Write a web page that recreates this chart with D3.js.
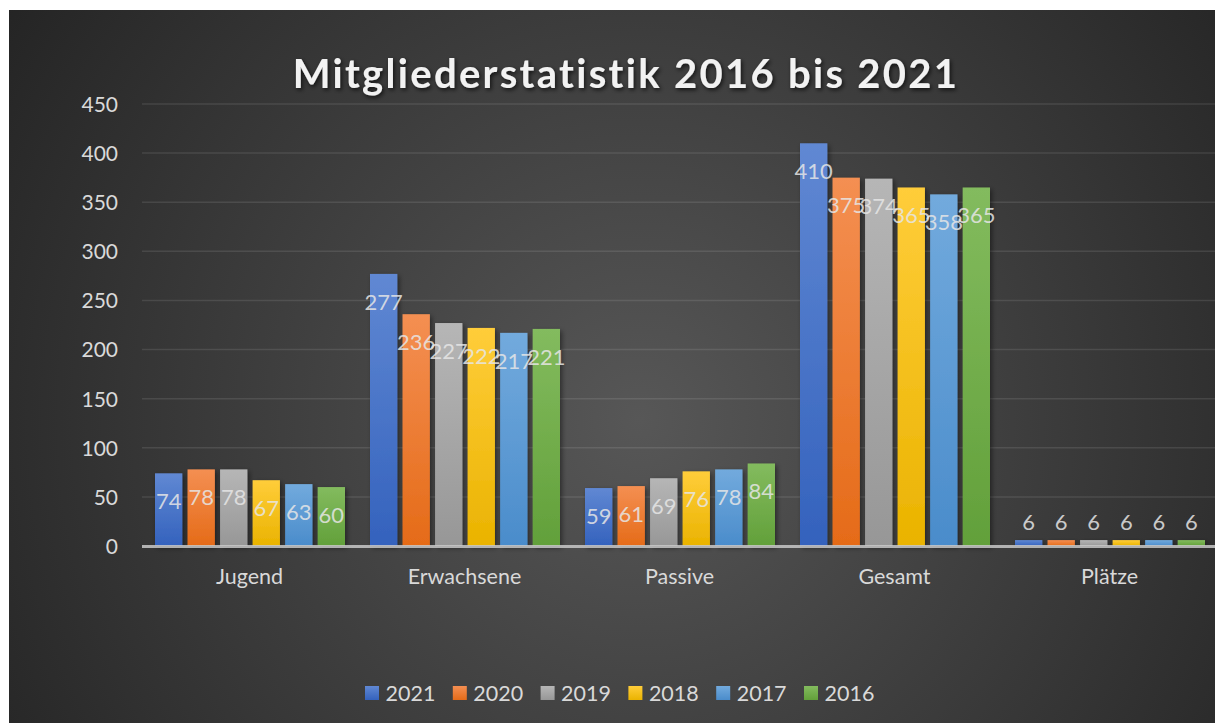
<!DOCTYPE html>
<html><head><meta charset="utf-8">
<script src="https://cdn.jsdelivr.net/npm/d3@7"></script>
<style>html,body{margin:0;padding:0;background:#fff;overflow:hidden}svg{display:block}</style>
</head><body>
<script>
const categories = ["Jugend","Erwachsene","Passive","Gesamt","Plätze"];
const seriesNames = ["2021","2020","2019","2018","2017","2016"];
const v2021 = [74,277,59,410,6];
const v2020 = [78,236,61,375,6];
const v2019 = [78,227,69,374,6];
const v2018 = [67,222,76,365,6];
const v2017 = [63,217,78,358,6];
const v2016 = [60,221,84,365,6];
const seriesValues = [v2021,v2020,v2019,v2018,v2017,v2016];
const yTicks = [0,50,100,150,200,250,300,350,400,450];
const title = "Mitgliederstatistik 2016 bis 2021";
const colorsTop = ["#6088d3","#f48f52","#b6b6b6","#ffcd3a","#72aadd","#83bb5e"];
const colorsBot = ["#3462bd","#e56b18","#979797","#eab300","#4a8ccb","#62a03a"];

const W=1215,H=723;
const FONT="Lato, 'Open Sans', sans-serif";
const svg=d3.select("body").append("svg").attr("width",W).attr("height",H);
const defs=svg.append("defs");
const rg=defs.append("radialGradient").attr("id","bg").attr("gradientUnits","userSpaceOnUse")
  .attr("cx",640).attr("cy",420).attr("r",760);
rg.append("stop").attr("offset","0%").attr("stop-color","#575757");
rg.append("stop").attr("offset","100%").attr("stop-color","#242424");
seriesNames.forEach((s,i)=>{
  const g=defs.append("linearGradient").attr("id","g"+i).attr("x1",0).attr("y1",0).attr("x2",0).attr("y2",1);
  g.append("stop").attr("offset","0%").attr("stop-color",colorsTop[i]);
  g.append("stop").attr("offset","100%").attr("stop-color",colorsBot[i]);
});
const f=defs.append("filter").attr("id","sh").attr("x","-20%").attr("y","-20%").attr("width","150%").attr("height","150%");
f.append("feDropShadow").attr("dx",2).attr("dy",2).attr("stdDeviation",2.5).attr("flood-color","#000").attr("flood-opacity",0.45);
const ft=defs.append("filter").attr("id","tsh").attr("x","-10%").attr("y","-30%").attr("width","120%").attr("height","160%");
ft.append("feDropShadow").attr("dx",1.5).attr("dy",2).attr("stdDeviation",2).attr("flood-color","#000").attr("flood-opacity",0.7);

svg.append("rect").attr("x",9).attr("y",10).attr("width",W-9).attr("height",H-10).attr("fill","url(#bg)");

const x0=d3.scaleBand().domain(categories).range([142,1217]).paddingInner(0).paddingOuter(0);
const x1=d3.scaleBand().domain(seriesNames).range([13,203]).paddingInner(0.16).paddingOuter(0);
const y=d3.scaleLinear().domain([0,450]).range([546,104]);

// gridlines
svg.append("g").selectAll("line").data(yTicks.filter(t=>t>0)).join("line")
  .attr("x1",142).attr("x2",W).attr("y1",d=>y(d)).attr("y2",d=>y(d))
  .attr("stroke","#ffffff").attr("stroke-opacity",0.1).attr("stroke-width",1.5);

// y axis labels
const yAxis=d3.axisLeft(y).tickValues(yTicks).tickSize(0).tickPadding(0);
const ga=svg.append("g").attr("transform","translate(118,0)").call(yAxis);
ga.select(".domain").remove();
ga.selectAll("text").attr("fill","#d9d9d9").attr("font-size","21px").attr("font-family",FONT).attr("dy","0.35em");

// bars
const groups=svg.append("g").selectAll("g").data(categories).join("g")
  .attr("transform",d=>`translate(${x0(d)},0)`);
groups.each(function(cat,ci){
  const g=d3.select(this);
  seriesNames.forEach((s,si)=>{
    const v=seriesValues[si][ci];
    g.append("rect").attr("x",x1(s)).attr("y",y(v)).attr("width",x1.bandwidth()).attr("height",y(0)-y(v))
      .attr("fill",`url(#g${si})`).attr("filter","url(#sh)");
  });
});
// baseline
svg.append("line").attr("x1",142).attr("x2",W).attr("y1",y(0)+0.5).attr("y2",y(0)+0.5)
  .attr("stroke","#c8c8c8").attr("stroke-width",3).attr("stroke-opacity",0.85);

// data labels
groups.each(function(cat,ci){
  const g=d3.select(this);
  seriesNames.forEach((s,si)=>{
    const v=seriesValues[si][ci];
    const top=y(v), inside=(y(0)-top)>40;
    g.append("text").attr("x",x1(s)+x1.bandwidth()/2).attr("y",inside?top+28:top-18)
      .attr("dy","0.35em").attr("text-anchor","middle").attr("font-family",FONT).attr("font-size","22px")
      .attr("fill","#e6e6e6").attr("fill-opacity",0.85).text(v);
  });
});

// category labels
svg.append("g").selectAll("text").data(categories).join("text")
  .attr("x",d=>x0(d)+x0.bandwidth()/2).attr("y",584).attr("text-anchor","middle")
  .attr("font-family",FONT).attr("font-size","21.5px").attr("fill","#d9d9d9").text(d=>d);

// title
svg.append("text").attr("x",626).attr("y",88).attr("text-anchor","middle")
  .attr("font-family",FONT).attr("font-weight","bold").attr("font-size","40px").attr("letter-spacing","2.3px")
  .attr("fill","#f2f2f2").attr("filter","url(#tsh)").text(title);

// legend
const lg=svg.append("g").selectAll("g").data(seriesNames).join("g")
  .attr("transform",(d,i)=>`translate(${365+i*87.8},686)`);
lg.append("rect").attr("width",14).attr("height",14).attr("fill",(d,i)=>`url(#g${i})`);
lg.append("text").attr("x",20.5).attr("y",7).attr("dy","0.35em").attr("font-family",FONT).attr("font-size","21.5px")
  .attr("fill","#d9d9d9").text(d=>d);
</script>
</body></html>
